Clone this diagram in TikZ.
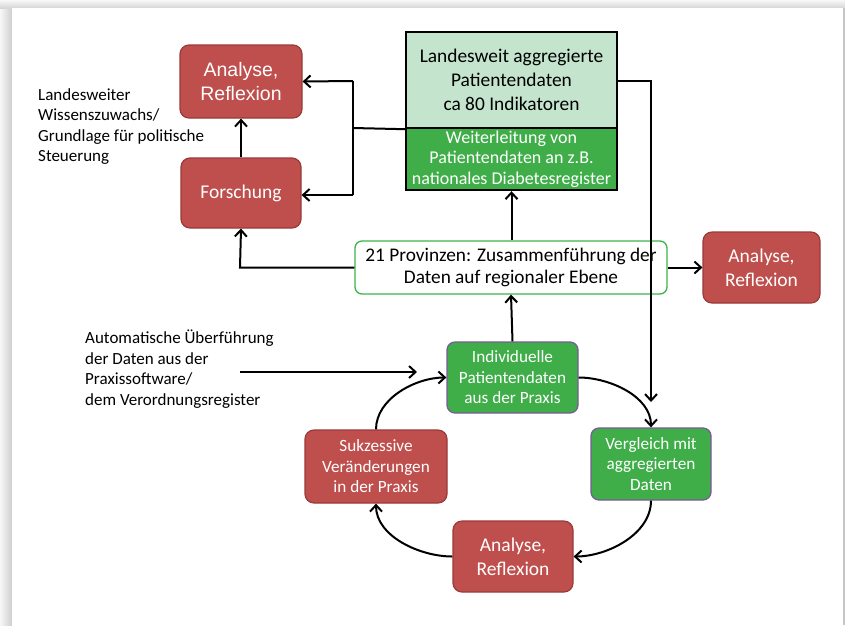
\documentclass[tikz,border=0pt]{standalone}
\usepackage{fontspec}
\setmainfont{Carlito}
\newfontfamily\arialf{Liberation Sans}
\usetikzlibrary{arrows.meta,positioning,calc}
\definecolor{redfill}{HTML}{BE4F4C}
\definecolor{redline}{HTML}{9A3B39}
\definecolor{greenfill}{HTML}{3FAE49}
\definecolor{mint}{HTML}{C4E4CD}
\definecolor{purpleline}{HTML}{7A5C94}
\definecolor{provgreen}{HTML}{3CB44A}
\tikzset{
  redbox/.style={draw=redline, line width=1.2pt, fill=redfill, rounded corners=9pt, text=white, align=center, inner sep=2pt},
  greenbox/.style={draw=purpleline, line width=1.3pt, fill=greenfill, rounded corners=8pt, text=white, align=center, inner sep=2pt},
  conn/.style={line width=2pt, draw=black},
  arr/.style={conn, -{Straight Barb[length=6.5pt,width=12pt,line width=2pt]}},
  plain/.style={align=left, inner sep=0pt, text=black},
}
\begin{document}
\begin{tikzpicture}[x=1pt,y=-1pt]
\useasboundingbox (0,0) rectangle (845,625);
% page background with shadow
\fill[gray!30] (0,0) rectangle (845,625);
\shade[left color=gray!6, right color=gray!38] (0,0) rectangle (12,625);
\shade[top color=gray!6, bottom color=gray!32] (0,0) rectangle (845,8);
\fill[white] (12,8) rectangle (843,625);
\fill[gray!45] (843,8) rectangle (845,625);

\def\fsA{\fontsize{19.5}{24}\selectfont}
\def\fsB{\fontsize{17.2}{20.5}\selectfont}

% top-left boxes
\node[redbox, minimum width=122pt, minimum height=73pt, font=\arialf\fontsize{19.5}{24}\selectfont] (anaTL) at (241,81.5) {Analyse,\\Reflexion};
\node[redbox, minimum width=120pt, minimum height=70pt, font=\fsA] (forsch) at (241,193) {Forschung};

% Landesweit box
\node[draw=black, line width=2.4pt, fill=mint, minimum width=211pt, minimum height=96pt, align=center, inner sep=0pt, font=\fontsize{19.4}{24}\selectfont] (landTop) at (511.5,80) {Landesweit aggregierte\\Patientendaten\\ca 80 Indikatoren};
\node[draw=black, line width=2.4pt, fill=greenfill, minimum width=211pt, minimum height=62pt, align=center, inner sep=0pt, text=white, font=\fontsize{18}{20.5}\selectfont] (landBot) at (511.5,159) {Weiterleitung von\\Patientendaten an z.B.\\nationales Diabetesregister};

% Provinzen
\node[draw=provgreen, line width=1.3pt, fill=white, rounded corners=7pt, minimum width=312pt, minimum height=53pt, align=center, font=\fontsize{19.3}{22.5}\selectfont] (prov) at (511,267.5) {21 Provinzen: Zusammenführung der\\Daten auf regionaler Ebene};

\node[redbox, minimum width=117pt, minimum height=71pt, font=\fsA] (anaR) at (761.5,267.5) {Analyse,\\Reflexion};

% cycle
\node[greenbox, minimum width=131pt, minimum height=71pt, font=\fsB] (indiv) at (512.5,377.5) {Individuelle\\Patientendaten\\aus der Praxis};
\node[greenbox, minimum width=120pt, minimum height=72pt, font=\fsB] (vergl) at (651,464) {Vergleich mit\\aggregierten\\Daten};
\node[redbox, minimum width=142pt, minimum height=73pt, font=\fsB] (sukz) at (376,466.5) {Sukzessive\\Veränderungen\\in der Praxis};
\node[redbox, minimum width=120pt, minimum height=71pt, font=\fsA] (anaB) at (513,556.5) {Analyse,\\Reflexion};

% texts
\node[plain, anchor=north west, font=\fontsize{17}{20.5}\selectfont] (txtL) at (38,88) {Landesweiter\\Wissenszuwachs/\\Grundlage für politische\\Steuerung};
\node[plain, anchor=north west, font=\fontsize{17}{20.5}\selectfont] (txtA) at (85,330) {Automatische Überführung\\der Daten aus der\\Praxissoftware/\\dem Verordnungsregister};

% coordinates
\coordinate (lv) at (353,128);
\coordinate (lvTop) at (353,81);
\coordinate (lvBot) at (353,195);
\coordinate (rTop) at (651,81);
\coordinate (rEnd) at (651,402);
\coordinate (autoStart) at (240,372);
\coordinate (autoEnd) at (417,372);
\coordinate (provL) at (240,267.5);

% connectors
\draw[conn] (landTop.south west) -- (lv);
\draw[conn] (lvTop) -- (lvBot);
\draw[arr] (lvTop) -- (anaTL.east);
\draw[arr] (lvBot) -- (forsch.east |- lvBot);
\draw[arr] (forsch.north) -- (anaTL.south);
\draw[arr] (landTop.east |- rTop) -- (rTop) -- (rEnd);
\draw[arr] (prov.north -| landBot.south) -- (landBot.south);
\draw[arr] (prov.west) -- (provL) -- (forsch.south);
\draw[arr] (prov.east) -- (anaR.west);
\draw[arr] (indiv.north) -- (prov.south);
\draw[arr] (autoStart) -- (autoEnd);

\draw[arr] (indiv.east) to[out=0,in=90,looseness=0.9] (vergl.north);
\draw[arr] (vergl.south) to[out=-90,in=0,looseness=0.9] (anaB.east);
\draw[arr] (anaB.west) to[out=180,in=-90,looseness=0.9] (sukz.south);
\draw[arr] (sukz.north) to[out=90,in=180,looseness=0.9] (indiv.west);
\end{tikzpicture}
\end{document}
